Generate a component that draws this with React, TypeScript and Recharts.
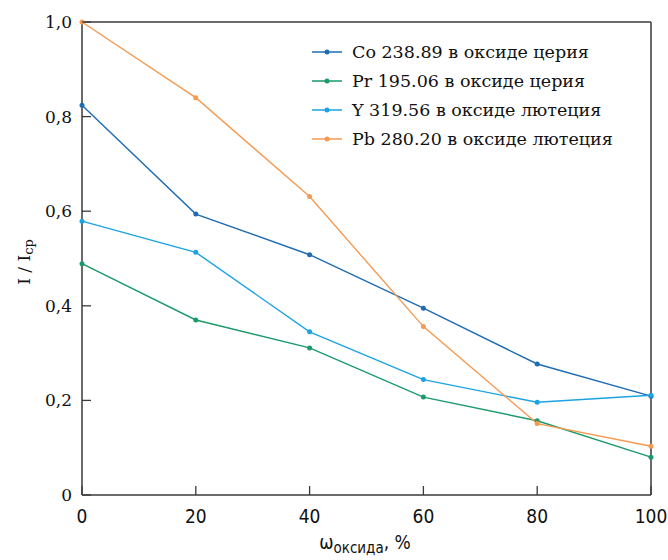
import { LineChart, Line, XAxis, YAxis } from "recharts";

// ω оксида, %
const oxideShare = [0, 20, 40, 60, 80, 100];

// relative intensity I / Icp
const coCerium = [0.824, 0.594, 0.508, 0.395, 0.277, 0.209];
const prCerium = [0.489, 0.37, 0.311, 0.207, 0.157, 0.08];
const yLutetium = [0.579, 0.513, 0.345, 0.244, 0.196, 0.211];
const pbLutetium = [1.0, 0.84, 0.631, 0.356, 0.151, 0.103];

const xTicks = [0, 20, 40, 60, 80, 100];
const yTicks = [0, 0.2, 0.4, 0.6, 0.8, 1.0];

const series = [
  { key: "co", name: "Co 238.89 в оксиде церия", color: "#1f6cb3", values: coCerium },
  { key: "pr", name: "Pr 195.06 в оксиде церия", color: "#1b9a6a", values: prCerium },
  { key: "y", name: "Y 319.56 в оксиде лютеция", color: "#1ca3e3", values: yLutetium },
  { key: "pb", name: "Pb 280.20 в оксиде лютеция", color: "#f59a52", values: pbLutetium },
];

const data = oxideShare.map((x, i) => {
  const row: Record<string, number> = { x };
  series.forEach((s) => (row[s.key] = s.values[i]));
  return row;
});

const AXIS = "#3a3a3a";
const SERIF = "'DejaVu Serif', serif";
const NARROW = "'Liberation Sans Narrow', 'DejaVu Sans Condensed', sans-serif";

const fmt = (v: number) => (v === 0 ? "0" : v.toFixed(1).replace(".", ","));

const XTick = (props: any) => {
  const { x, y, payload } = props;
  return (
    <g>
      <line x1={x} x2={x} y1={y} y2={y - 9} stroke={AXIS} strokeWidth={1.3} />
      <text x={x} y={y + 28} textAnchor="middle" fontFamily={NARROW} fontSize={19} fill="#111">
        {payload.value}
      </text>
    </g>
  );
};

const YTick = (props: any) => {
  const { x, y, payload } = props;
  return (
    <g>
      <line x1={x} x2={x + 9} y1={y} y2={y} stroke={AXIS} strokeWidth={1.3} />
      <text x={x - 10} y={y + 6} textAnchor="end" fontFamily={SERIF} fontSize={17} fill="#111">
        {fmt(payload.value)}
      </text>
    </g>
  );
};

const LegendBox = () => (
  <g>
    {series.map((s, i) => {
      const y = 52 + i * 29;
      return (
        <g key={s.key}>
          <line x1={312} x2={342} y1={y} y2={y} stroke={s.color} strokeWidth={1.5} />
          <circle cx={327} cy={y} r={2.5} fill={s.color} />
          <text x={352} y={y + 6} fontFamily={SERIF} fontSize={17.5} fill="#111">
            {s.name}
          </text>
        </g>
      );
    })}
  </g>
);

export default function App() {
  return (
    <div style={{ position: "absolute", left: 0, top: 0, width: 668, height: 560, background: "#fff" }}>
      <LineChart width={668} height={560} data={data} margin={{ top: 21, right: 16, bottom: 64, left: 81 }}>
        <XAxis
          dataKey="x"
          type="number"
          domain={[0, 100]}
          ticks={xTicks}
          tick={<XTick />}
          tickLine={false}
          tickSize={0}
          tickMargin={0}
          height={1}
          stroke={AXIS}
          strokeWidth={1.5}
          label={{
            content: () => (
              <text x={365} y={549} textAnchor="middle" fontFamily={NARROW} fontSize={19} fill="#111">
                ω
                <tspan fontSize={15} dy={4}>оксида</tspan>
                <tspan dy={-4}>, %</tspan>
              </text>
            ),
          }}
        />
        <XAxis xAxisId="top" orientation="top" type="number" dataKey="x" domain={[0, 100]} tick={false} tickLine={false} height={1} stroke={AXIS} strokeWidth={1.5} />
        <YAxis
          type="number"
          domain={[0, 1]}
          ticks={yTicks}
          tick={<YTick />}
          tickLine={false}
          tickSize={0}
          tickMargin={0}
          width={1}
          stroke={AXIS}
          strokeWidth={1.5}
          label={{
            content: () => (
              <text transform="translate(30 262) rotate(-90)" textAnchor="middle" fontFamily={SERIF} fontSize={17} fill="#111">
                I / I
                <tspan fontSize={13} dy={3}>cp</tspan>
              </text>
            ),
          }}
        />
        <YAxis yAxisId="right" orientation="right" type="number" domain={[0, 1]} tick={false} tickLine={false} width={1} stroke={AXIS} strokeWidth={1.5} />
        {series.map((s) => (
          <Line
            key={s.key}
            dataKey={s.key}
            name={s.name}
            stroke={s.color}
            strokeWidth={1.4}
            dot={{ r: 2.5, fill: s.color, stroke: s.color, strokeWidth: 0 }}
            activeDot={false}
            isAnimationActive={false}
          />
        ))}
        <LegendBox />
      </LineChart>
    </div>
  );
}
